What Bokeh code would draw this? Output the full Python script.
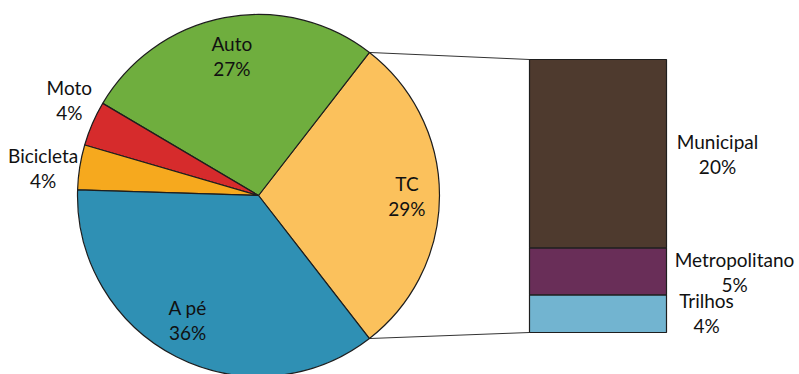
import math
from bokeh.plotting import figure
from bokeh.models import Range1d
from bokeh.core.properties import value
from bokeh.embed import file_html
from bokeh.resources import INLINE

# ---- data ----
pie_names = ["TC", "Auto", "Moto", "Bicicleta", "A pé"]
pie_values = [29, 27, 4, 4, 36]
pie_colors = ["#fbc15c", "#6fae3e", "#d62b2c", "#f6a91e", "#2f90b4"]

bar_names = ["Trilhos", "Metropolitano", "Municipal"]
bar_values = [4, 5, 20]
bar_colors = ["#72b4d0", "#692e58", "#4e3a2e"]

# ---- layout ----
W, H = 799, 374
cx, cy, R = 258, 374 - 195, 181
bar_left, bar_right, bar_bottom = 529, 666, 42
px_per_pct = 273 / sum(bar_values)
# label placement (radius factor, angle tweak in degrees)
lab_rf = [0.82, 0.785, 1.17, 1.2, 0.79]
lab_da = [0, 0, -3.3, 1.6, -2.7]
FONT = value("Lato")
FS = "19px"
LINE_GAP = 12.5

p = figure(width=W, height=H, x_range=Range1d(0, W), y_range=Range1d(0, H),
           output_backend="svg", toolbar_location=None, min_border=0)
p.axis.visible = False
p.grid.visible = False
p.outline_line_color = None
p.background_fill_color = "white"

total = sum(pie_values)
start = -pie_values[0] / total * math.pi  # TC centered on the right
starts, ends = [], []
a = start
for v in pie_values:
    starts.append(a)
    a += v / total * 2 * math.pi
    ends.append(a)

# connector lines from TC slice edges to the bar
bar_top = bar_bottom + sum(bar_values) * px_per_pct
p.line([cx + R * math.cos(ends[0]), bar_left], [cy + R * math.sin(ends[0]), bar_top],
       line_color="#333333", line_width=1)
p.line([cx + R * math.cos(starts[0]), bar_left], [cy + R * math.sin(starts[0]), bar_bottom],
       line_color="#333333", line_width=1)

p.wedge(x=cx, y=cy, radius=R, start_angle=starts, end_angle=ends,
        fill_color=pie_colors, line_color="#1e1e1e", line_width=1.2)

# pie labels
for name, v, s, e, rf, da in zip(pie_names, pie_values, starts, ends, lab_rf, lab_da):
    mid = (s + e) / 2 + math.radians(da)
    lx = cx + rf * R * math.cos(mid)
    ly = cy + rf * R * math.sin(mid)
    p.text(x=[lx], y=[ly + LINE_GAP], text=[name], text_font=FONT, text_font_size=FS,
           text_align="center", text_baseline="middle", text_color="#111111")
    p.text(x=[lx], y=[ly - LINE_GAP], text=[f"{v}%"], text_font=FONT, text_font_size=FS,
           text_align="center", text_baseline="middle", text_color="#111111")

# stacked bar
bots, tops = [], []
b = bar_bottom
for v in bar_values:
    bots.append(b)
    b += v * px_per_pct
    tops.append(b)
p.quad(left=bar_left, right=bar_right, bottom=bots, top=tops,
       fill_color=bar_colors, line_color="#1e1e1e", line_width=1.2)

bar_lab_x = [706, 734, 717]
bar_lab_y = [374 - 312.5, 374 - 271, 374 - 153.5]
for name, v, lx, ly in zip(bar_names, bar_values, bar_lab_x, bar_lab_y):
    p.text(x=[lx], y=[ly + LINE_GAP], text=[name], text_font=FONT, text_font_size=FS,
           text_align="center", text_baseline="middle", text_color="#111111")
    p.text(x=[lx], y=[ly - LINE_GAP], text=[f"{v}%"], text_font=FONT, text_font_size=FS,
           text_align="center", text_baseline="middle", text_color="#111111")

open("out.html", "w").write(file_html(p, INLINE))
